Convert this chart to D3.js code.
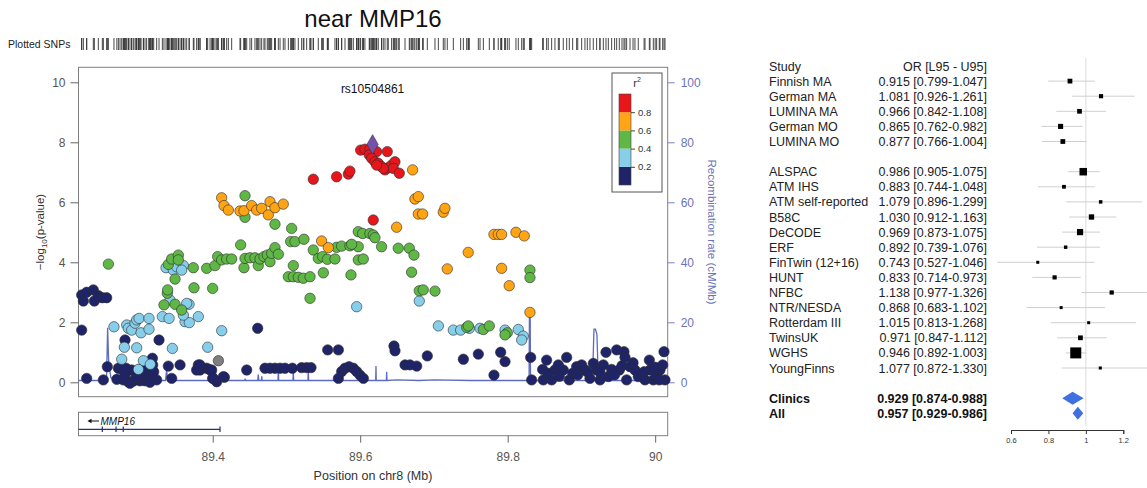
<!DOCTYPE html>
<html>
<head>
<meta charset="utf-8">
<script src="https://cdn.jsdelivr.net/npm/d3@7"></script>
<style>
  body { margin: 0; background: #fff; }
  svg { font-family: "Liberation Sans", Arial, Helvetica, sans-serif; }
</style>
</head>
<body>
<svg id="chart"></svg>
<script>
// ---- regional association data (position Mb, -log10 p) grouped by r2 bin ----
let navySnps = [
  [89.2223,2.91],[89.2246,2.71],[89.2291,3.00],[89.2381,3.08],[89.2395,2.71],[89.2449,2.89],[89.2503,2.82],[89.2562,2.82],
  [89.2223,1.74],[89.2291,0.13],[89.2517,0.08],[89.2571,0.52],
  [89.2811,1.41],[89.3272,1.41],[89.3182,0.80],[89.4610,1.80],[89.5559,1.08],[89.5704,1.08],
  [89.2721,0.47],[89.2788,0.41],[89.2901,0.41],[89.2992,0.41],[89.2788,0.08],[89.2856,0.02],[89.2924,0.04],[89.3014,0.05],
  [89.3082,0.05],[89.3150,0.24],[89.3173,0.08],[89.3240,0.08],[89.3398,0.54],[89.3444,0.13],[89.3557,0.58],[89.3805,0.58],
  [89.3828,0.41],[89.3918,0.47],[89.3964,0.41],[89.4009,0.13],[89.4054,0.02],[89.4158,0.17],[89.4461,0.41],
  [89.4709,0.47],[89.4777,0.47],[89.4845,0.47],[89.4913,0.47],[89.4980,0.47],[89.5080,0.47],[89.5206,0.49],[89.5274,0.49],[89.5333,0.49],
  [89.5704,0.13],[89.5749,0.36],[89.5794,0.47],[89.5849,0.52],[89.5907,0.47],[89.5952,0.36],[89.5997,0.24],[89.6043,0.13],
  [89.2811,0.24],[89.2878,-0.03],[89.3014,0.41],[89.3104,0.47],[89.3186,0.58],[89.3149,0.00],[89.3782,0.41],[89.3827,0.58],
  [89.3986,0.41],[89.3999,0.13],[89.4144,0.19],[89.2743,0.47],[89.2824,0.47],[89.2700,0.10],[89.2960,0.15],[89.3060,0.30],[89.3200,0.35],
  [89.6458,1.21],[89.6472,1.05],[89.6608,0.58],[89.6675,0.58],[89.6766,0.54],[89.6910,0.88],[89.7399,0.77],[89.7602,0.94],
  [89.7814,0.24],[89.7905,1.00],[89.7964,0.69],[89.8312,0.83],[89.8325,0.08],[89.8483,0.08],[89.8474,0.43],[89.8528,0.74],
  [89.8596,0.08],[89.8641,0.41],[89.8687,0.58],[89.8754,0.41],[89.8800,0.83],[89.8836,0.08],[89.8881,0.30],[89.8935,0.52],
  [89.9003,0.58],[89.9048,0.41],[89.9116,0.13],[89.9161,0.63],[89.9206,0.41],[89.9252,0.08],[89.9297,0.58],[89.9333,1.00],
  [89.9365,0.19],[89.9410,0.43],[89.9478,1.08],[89.9514,0.41],[89.9577,1.02],[89.9591,0.83],[89.9613,0.08],[89.9659,0.52],
  [89.9726,0.41],[89.9771,0.19],[89.9862,0.08],[89.9921,0.74],[89.9930,0.41],[89.9975,0.08],[90.0020,0.19],[90.0065,0.41],
  [90.0102,0.58],[90.0120,1.02],[90.0133,0.08],[90.0056,0.08],[89.8550,0.30],[89.8700,0.20],[89.8950,0.25],[89.9080,0.35],
  [89.9250,0.35],[89.9450,0.25],[89.9550,0.55],[89.9700,0.65],[89.9850,0.35],[90.0000,0.50]
];
let lightBlueSnps = [
  [89.2661,1.85],[89.2834,1.91],[89.2856,1.80],[89.2901,1.74],[89.2947,1.97],[89.2969,2.08],[89.3001,2.13],[89.3028,1.65],
  [89.3136,2.13],[89.3136,1.77],[89.3317,2.19],[89.3408,2.13],[89.3625,2.02],[89.3679,2.60],[89.3683,1.99],[89.3805,2.19],
  [89.3647,2.63],[89.3602,2.24],[89.2802,1.17],[89.2969,1.15],[89.2766,0.77],[89.3060,0.72],[89.3154,0.60],[89.2992,0.43],
  [89.3453,1.13],[89.3932,1.17],[89.4122,1.72],[89.3367,3.82],[89.3466,3.74],[89.3511,3.85],[89.3602,3.89],[89.3579,3.74],
  [89.3421,2.74],[89.5952,2.52],[89.6801,2.71],[89.7060,1.88],[89.7263,1.74],[89.7362,1.74],[89.7480,1.80],[89.7625,1.80],
  [89.7964,1.74],[89.8144,1.76],[89.8212,1.54],[89.8190,1.41]
];
let greySnps = [[89.4077,0.72]];
let greenSnps = [
  [89.2585,3.94],[89.3339,2.58],[89.3385,2.97],[89.3389,3.08],[89.3489,2.60],[89.3579,2.41],[89.3489,3.44],[89.3398,3.93],
  [89.3443,4.11],[89.3534,4.24],[89.3534,4.08],[89.3737,3.82],[89.3746,3.15],[89.3918,3.80],[89.3999,3.13],[89.4031,3.89],
  [89.4067,4.19],[89.4121,4.08],[89.4189,4.11],[89.4257,4.11],[89.4379,4.58],[89.4424,3.82],[89.4438,4.13],[89.4505,4.15],
  [89.4573,4.15],[89.4618,3.89],[89.4641,4.11],[89.4695,4.19],[89.4740,4.24],[89.4777,4.02],[89.4799,4.30],[89.4844,4.49],
  [89.4890,4.27],[89.4844,5.27],[89.4438,6.22],[89.4438,5.50],[89.5070,5.13],[89.5093,3.89],[89.5057,4.69],[89.5115,4.69],
  [89.5237,4.77],[89.5026,3.52],[89.5093,3.52],[89.5161,3.50],[89.5229,3.47],[89.5320,3.52],[89.5500,3.65],[89.5320,2.80],
  [89.5875,3.58],[89.5364,4.41],[89.5432,4.13],[89.5491,4.19],[89.5554,4.10],[89.5658,4.11],[89.5680,4.50],[89.5748,4.54],
  [89.5861,4.55],[89.5974,4.52],[89.5974,5.02],[89.5974,4.08],[89.6033,4.96],[89.6132,4.96],[89.6177,4.91],[89.6200,4.82],
  [89.6042,4.11],[89.5884,4.60],[89.6290,4.52],[89.6516,4.47],[89.6666,4.47],[89.6729,4.24],[89.6697,3.67],[89.6801,3.05],
  [89.6855,3.08],[89.7014,3.04],[89.8302,3.74],[89.8302,3.49],[89.7444,1.83],[89.7466,1.88],[89.7670,1.76],[89.7751,1.88],
  [89.7995,1.65],[89.7964,1.58]
];
let orangeSnps = [
  [89.4121,6.15],[89.4153,5.89],[89.4212,5.74],[89.4370,5.71],[89.4424,5.72],[89.4528,5.89],[89.4596,5.74],[89.4664,5.80],
  [89.4754,5.58],[89.4777,6.02],[89.4844,5.82],[89.4957,5.94],[89.5477,4.71],[89.5568,4.49],[89.6711,7.08],[89.6742,6.11],
  [89.6788,6.19],[89.6788,5.61],[89.6846,5.61],[89.7127,5.67],[89.7149,5.80],[89.6494,5.17],[89.7465,4.33],[89.7181,3.78],
  [89.7918,3.80],[89.8021,3.22],[89.7814,4.93],[89.7872,4.93],[89.7918,4.93],[89.8112,5.00],[89.8225,4.88],[89.8302,2.33]
];
let redSnps = [
  [89.5364,6.77],[89.5680,6.85],[89.5839,6.94],[89.5861,7.04],[89.6006,7.74],[89.6064,7.77],[89.6132,7.77],[89.6223,7.69],
  [89.6367,7.69],[89.6123,7.58],[89.6155,7.47],[89.6200,7.35],[89.6245,7.30],[89.6290,7.19],[89.6336,7.08],[89.6381,7.15],
  [89.6426,7.24],[89.6471,7.35],[89.6449,7.13],[89.6530,6.97],[89.6313,7.13],[89.6223,7.24],[89.6177,5.41]
];
let indexSnp = { name: "rs10504861", pos: 89.6168, logp: 7.93 };

// recombination rate (cM/Mb)
let recombPos = [89.218,89.250,89.2560,89.2575,89.2590,89.262,89.268,89.275,89.336,89.3375,89.339,89.402,89.4035,89.405,
  89.4435,89.444,89.4445,89.461,89.4618,89.4625,89.466,89.4665,89.467,89.4885,89.489,89.4895,89.5088,89.5093,89.5098,
  89.5291,89.5296,89.5301,89.55,89.621,89.6214,89.6218,89.6355,89.6359,89.6363,89.65,89.68,89.70,89.75,89.80,89.826,
  89.829,89.8295,89.8305,89.831,89.834,89.87,89.915,89.917,89.919,89.921,89.923,89.95,90.017];
let recombRate = [0.6,0.6,0.8,18.2,6,1.5,0.8,0.6,0.6,4.2,0.6,0.6,4.5,0.6,
  0.6,1.2,0.6,0.6,2.6,0.6,0.6,2.0,0.6,0.6,4.5,0.6,0.6,3.8,0.6,
  0.6,4.0,0.6,0.6,0.6,5.4,0.6,0.6,3.5,0.6,0.8,0.6,0.8,0.6,0.6,0.6,
  1.0,22.5,22.5,1.0,0.6,0.6,0.6,17.7,17.7,16,0.6,0.6,0.6];

let geneName = "MMP16";
let geneStart = 89.218;
let geneEnd = 89.4099;
let geneExons = [89.2503, 89.2689, 89.2787, 89.4099];

let yTicks = [0, 2, 4, 6, 8, 10];
let recombTicks = [0, 20, 40, 60, 80, 100];
let xTicks = [89.4, 89.6, 89.8, 90];
let legendBreaks = [0.2, 0.4, 0.6, 0.8];

// ---- forest plot data ----
let studies = ["Finnish MA","German MA","LUMINA MA","German MO","LUMINA MO","ALSPAC","ATM IHS","ATM self-reported",
  "B58C","DeCODE","ERF","FinTwin (12+16)","HUNT","NFBC","NTR/NESDA","Rotterdam III","TwinsUK","WGHS","YoungFinns"];
let oddsRatio = [0.915,1.081,0.966,0.865,0.877,0.986,0.883,1.079,1.030,0.969,0.892,0.743,0.833,1.138,0.868,1.015,0.971,0.946,1.077];
let lower95 = [0.799,0.926,0.842,0.762,0.766,0.905,0.744,0.896,0.912,0.873,0.739,0.527,0.714,0.977,0.683,0.813,0.847,0.892,0.872];
let upper95 = [1.047,1.261,1.108,0.982,1.004,1.075,1.048,1.299,1.163,1.075,1.076,1.046,0.973,1.326,1.102,1.268,1.112,1.003,1.330];
let studyRows = [1,2,3,4,5,7,8,9,10,11,12,13,14,15,16,17,18,19,20];
let summaryNames = ["Clinics","All"];
let summaryOR = [0.929,0.957];
let summaryL95 = [0.874,0.929];
let summaryU95 = [0.988,0.986];
let summaryRows = [22,23];
let forestTicks = [0.6, 0.8, 1, 1.2];

let width = 1147;
let height = 488;

let colors = { navy: "#1f2468", lightBlue: "#87ceeb", green: "#5fb745", orange: "#ffa414", red: "#e8161b", grey: "#7f7f7f", index: "#7650ad" };

let svg = d3.select("#chart").attr("width", width).attr("height", height);
svg.append("rect").attr("width", width).attr("height", height).attr("fill", "#fff");

let xScale = d3.scaleLinear().domain([89.218, 90.017]).range([78.5, 667.7]);
let yScale = d3.scaleLinear().domain([0, 10]).range([382.3, 82.3]);
let recScale = d3.scaleLinear().domain([0, 100]).range([382.3, 82.3]);
let plotTop = 67.3, plotBottom = 396.7;

// title & plotted SNPs rug
svg.append("text").attr("x", 373).attr("y", 27).attr("text-anchor", "middle")
  .attr("font-size", 24).attr("fill", "#111").text("near MMP16");
svg.append("text").attr("x", 8).attr("y", 48).attr("font-size", 10.5).attr("fill", "#222").text("Plotted SNPs");

let allSnps = navySnps.concat(lightBlueSnps, greySnps, greenSnps, orangeSnps, redSnps, [[indexSnp.pos, indexSnp.logp]]);
svg.append("g").selectAll("line").data(allSnps).enter().append("line")
  .attr("x1", d => xScale(d[0])).attr("x2", d => xScale(d[0]))
  .attr("y1", 38).attr("y2", 50)
  .attr("stroke", "#333").attr("stroke-width", 0.9);

// plot frame
svg.append("rect").attr("x", 78.5).attr("y", plotTop).attr("width", 667.7 - 78.5).attr("height", plotBottom - plotTop)
  .attr("fill", "none").attr("stroke", "#808080").attr("stroke-width", 1);

// left axis
let yAxis = svg.append("g").attr("transform", "translate(78.5,0)")
  .call(d3.axisLeft(yScale).tickValues(yTicks).tickSize(8).tickPadding(5));
yAxis.select(".domain").remove();
yAxis.selectAll("line").attr("stroke", "#666");
yAxis.selectAll("text").attr("font-size", 12).attr("fill", "#555").attr("font-family", null);

let yLab = svg.append("text").attr("transform", "translate(44,232) rotate(-90)")
  .attr("text-anchor", "middle").attr("font-size", 11.5).attr("fill", "#333");
yLab.append("tspan").text("\u2212log");
yLab.append("tspan").attr("font-size", 8).attr("dy", 3).text("10");
yLab.append("tspan").attr("dy", -3).text("(p-value)");

// right axis (recombination)
let rAxis = svg.append("g").attr("transform", "translate(667.7,0)")
  .call(d3.axisRight(recScale).tickValues(recombTicks).tickSize(7).tickPadding(6));
rAxis.select(".domain").remove();
rAxis.selectAll("line").attr("stroke", "#7b84c2");
rAxis.selectAll("text").attr("font-size", 12).attr("fill", "#6b74b8").attr("font-family", null);

svg.append("text").attr("transform", "translate(708,232) rotate(90)")
  .attr("text-anchor", "middle").attr("font-size", 11.5).attr("fill", "#6b74b8")
  .text("Recombination rate (cM/Mb)");

// recombination line
let recLine = d3.line().x(d => xScale(d[0])).y(d => recScale(d[1]));
svg.append("path").datum(recombPos.map((p, i) => [p, recombRate[i]]))
  .attr("d", recLine).attr("fill", "none").attr("stroke", "#5d6cc0").attr("stroke-width", 1.3);

// SNP points, low LD first
let drawSnps = (data, fill) => {
  svg.append("g").selectAll("circle").data(data).enter().append("circle")
    .attr("cx", d => xScale(d[0])).attr("cy", d => yScale(d[1])).attr("r", 5.2)
    .attr("fill", fill).attr("stroke", "#2b2b2b").attr("stroke-width", 0.6);
};
drawSnps(navySnps, colors.navy);
drawSnps(greySnps, colors.grey);
drawSnps(lightBlueSnps, colors.lightBlue);
drawSnps(greenSnps, colors.green);
drawSnps(orangeSnps, colors.orange);
drawSnps(redSnps, colors.red);

// index SNP
svg.append("path").attr("d", d3.symbol().type(d3.symbolDiamond).size(110)())
  .attr("transform", "translate(" + xScale(indexSnp.pos) + "," + yScale(indexSnp.logp) + ")")
  .attr("fill", colors.index).attr("stroke", "#333").attr("stroke-width", 0.6);
svg.append("text").attr("x", xScale(indexSnp.pos)).attr("y", 92.5).attr("text-anchor", "middle")
  .attr("font-size", 12).attr("fill", "#111").text(indexSnp.name);

// r2 legend
let legScale = d3.scaleLinear().domain([0, 1]).range([185, 94]);
let legBins = [[0, 0.2, colors.navy], [0.2, 0.4, colors.lightBlue], [0.4, 0.6, colors.green], [0.6, 0.8, colors.orange], [0.8, 1, colors.red]];
svg.append("rect").attr("x", 612).attr("y", 73).attr("width", 50).attr("height", 119)
  .attr("fill", "#fff").attr("stroke", "#555").attr("stroke-width", 1);
let r2 = svg.append("text").attr("x", 637).attr("y", 87).attr("text-anchor", "middle").attr("font-size", 11).attr("fill", "#333");
r2.append("tspan").text("r");
r2.append("tspan").attr("font-size", 7).attr("dy", -5).text("2");
svg.append("g").selectAll("rect").data(legBins).enter().append("rect")
  .attr("x", 619).attr("width", 12)
  .attr("y", d => legScale(d[1])).attr("height", d => legScale(d[0]) - legScale(d[1]))
  .attr("fill", d => d[2]);
svg.append("rect").attr("x", 619).attr("y", 94).attr("width", 12).attr("height", 91)
  .attr("fill", "none").attr("stroke", "#444").attr("stroke-width", 0.6);
let legAxis = svg.append("g").attr("transform", "translate(631,0)")
  .call(d3.axisRight(legScale).tickValues(legendBreaks).tickSize(4).tickPadding(3).tickFormat(d3.format(".1f")));
legAxis.select(".domain").remove();
legAxis.selectAll("line").attr("stroke", "#444");
legAxis.selectAll("text").attr("font-size", 9.5).attr("fill", "#333").attr("font-family", null);

// gene panel
svg.append("rect").attr("x", 78.5).attr("y", 412.3).attr("width", 667.7 - 78.5).attr("height", 435.7 - 412.3)
  .attr("fill", "#fff").attr("stroke", "#808080").attr("stroke-width", 1);
svg.append("line").attr("x1", xScale(geneStart)).attr("x2", xScale(geneEnd)).attr("y1", 429.3).attr("y2", 429.3)
  .attr("stroke", "#25307a").attr("stroke-width", 1.2);
svg.append("g").selectAll("line").data(geneExons).enter().append("line")
  .attr("x1", d => xScale(d)).attr("x2", d => xScale(d)).attr("y1", 426.5).attr("y2", 432)
  .attr("stroke", "#25307a").attr("stroke-width", 1.2);
svg.append("line").attr("x1", xScale(geneStart) + 20.5).attr("x2", xScale(geneStart) + 11).attr("y1", 421).attr("y2", 421)
  .attr("stroke", "#111").attr("stroke-width", 1);
svg.append("path").attr("d", "M" + (xScale(geneStart) + 9) + ",421 l4,-2.2 l0,4.4 z").attr("fill", "#111");
svg.append("text").attr("x", xScale(geneStart) + 22).attr("y", 424.5).attr("font-size", 10)
  .attr("font-style", "italic").attr("fill", "#111").text(geneName);

// x axis
let xAxis = svg.append("g").attr("transform", "translate(0,435.7)")
  .call(d3.axisBottom(xScale).tickValues(xTicks).tickSize(7).tickPadding(10).tickFormat(d => String(d)));
xAxis.select(".domain").remove();
xAxis.selectAll("line").attr("stroke", "#666");
xAxis.selectAll("text").attr("font-size", 12).attr("fill", "#555").attr("font-family", null);
svg.append("text").attr("x", 373).attr("y", 480).attr("text-anchor", "middle")
  .attr("font-size", 12.5).attr("fill", "#333").text("Position on chr8 (Mb)");

// ---- forest plot ----
let rowScale = d3.scaleLinear().domain([0, 23]).range([66, 413.3]);
let orScale = d3.scaleLinear().domain([0.6, 1.2]).range([1011, 1123.3]);
let fmt = d3.format(".3f");
let ciText = (o, l, u) => fmt(o) + " [" + fmt(l) + "-" + fmt(u) + "]";
let studyX = 769, orX = 987, fs = 12.5;

svg.append("text").attr("x", studyX).attr("y", rowScale(0) + 4.5).attr("font-size", fs).attr("fill", "#222").text("Study");
svg.append("text").attr("x", orX).attr("y", rowScale(0) + 4.5).attr("text-anchor", "end").attr("font-size", fs)
  .attr("fill", "#222").text("OR [L95 - U95]");

svg.append("line").attr("x1", orScale(1)).attr("x2", orScale(1)).attr("y1", 58).attr("y2", 426)
  .attr("stroke", "#dcdcdc").attr("stroke-width", 1);

let se = studies.map((s, i) => (Math.log(upper95[i]) - Math.log(lower95[i])) / 3.92);
let weights = se.map(s => 1 / (s * s));
let boxScale = d3.scaleSqrt().domain([0, d3.max(weights)]).range([0, 11]);
let boxSide = i => Math.max(3, boxScale(weights[i]));

let rows = svg.append("g").selectAll("g").data(studies).enter().append("g");
rows.append("text").attr("x", studyX).attr("y", (d, i) => rowScale(studyRows[i]) + 4.5)
  .attr("font-size", fs).attr("fill", "#222").text(d => d);
rows.append("text").attr("x", orX).attr("y", (d, i) => rowScale(studyRows[i]) + 4.5).attr("text-anchor", "end")
  .attr("font-size", fs).attr("fill", "#222").text((d, i) => ciText(oddsRatio[i], lower95[i], upper95[i]));
rows.append("line").attr("x1", (d, i) => orScale(lower95[i])).attr("x2", (d, i) => orScale(upper95[i]))
  .attr("y1", (d, i) => rowScale(studyRows[i])).attr("y2", (d, i) => rowScale(studyRows[i]))
  .attr("stroke", "#cfcfcf").attr("stroke-width", 1);
rows.append("rect")
  .attr("width", (d, i) => boxSide(i)).attr("height", (d, i) => boxSide(i))
  .attr("x", (d, i) => orScale(oddsRatio[i]) - boxSide(i) / 2)
  .attr("y", (d, i) => rowScale(studyRows[i]) - boxSide(i) / 2)
  .attr("fill", "#000");

let sums = svg.append("g").selectAll("g").data(summaryNames).enter().append("g");
sums.append("text").attr("x", studyX).attr("y", (d, i) => rowScale(summaryRows[i]) + 4.5)
  .attr("font-size", fs).attr("font-weight", "bold").attr("fill", "#111").text(d => d);
sums.append("text").attr("x", orX).attr("y", (d, i) => rowScale(summaryRows[i]) + 4.5).attr("text-anchor", "end")
  .attr("font-size", fs).attr("font-weight", "bold").attr("fill", "#111")
  .text((d, i) => ciText(summaryOR[i], summaryL95[i], summaryU95[i]));
sums.append("path").attr("d", (d, i) => {
  let cy = rowScale(summaryRows[i]), h = 6.5;
  return "M" + orScale(summaryL95[i]) + "," + cy + "L" + orScale(summaryOR[i]) + "," + (cy - h) +
    "L" + orScale(summaryU95[i]) + "," + cy + "L" + orScale(summaryOR[i]) + "," + (cy + h) + "Z";
}).attr("fill", "#3f6fe0");

let fAxis = svg.append("g").attr("transform", "translate(0,430)")
  .call(d3.axisBottom(orScale).tickValues(forestTicks).tickSize(4).tickPadding(4).tickFormat(d => String(d)));
fAxis.select(".domain").attr("stroke", "#333");
fAxis.selectAll("line").attr("stroke", "#333");
fAxis.selectAll("text").attr("font-size", 7.5).attr("fill", "#333").attr("font-family", null);
</script>
</body>
</html>
